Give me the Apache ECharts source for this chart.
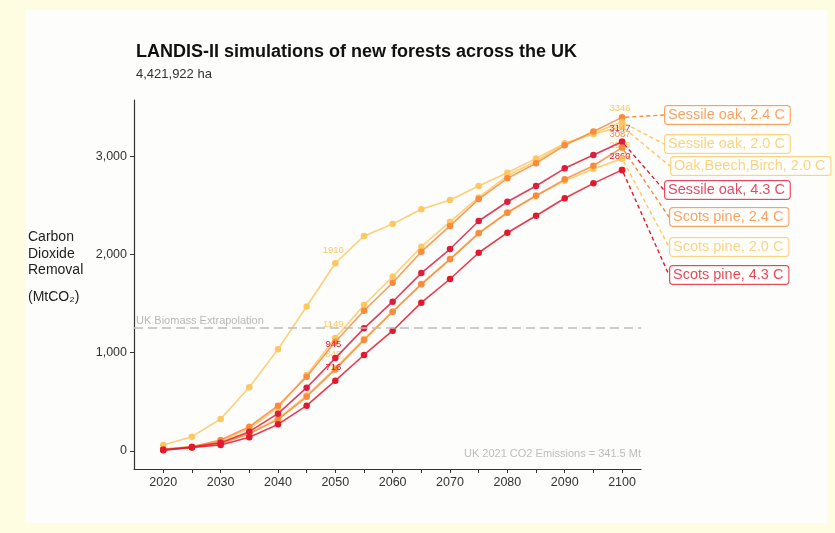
<!DOCTYPE html>
<html>
<head>
<meta charset="utf-8">
<script src="https://cdn.jsdelivr.net/npm/echarts@6/dist/echarts.min.js"></script>
<style>
  html, body { margin: 0; padding: 0; background: #FFFDE1; }
  #chart { width: 835px; height: 533px; }
</style>
</head>
<body>
<div id="chart"></div>
<script>
// ---------------- DATA ----------------
var years = [2020, 2025, 2030, 2035, 2040, 2045, 2050, 2055, 2060, 2065, 2070, 2075, 2080, 2085, 2090, 2095, 2100];
var xTickValues = [2020, 2025, 2030, 2035, 2040, 2045, 2050, 2055, 2060, 2065, 2070, 2075, 2080, 2085, 2090, 2095, 2100];
var xTickLabels = [2020, 2030, 2040, 2050, 2060, 2070, 2080, 2090, 2100];
var yTickLabels = [0, 1000, 2000, 3000];

var scotsPine20      = [15, 38, 78, 180, 330, 565, 845, 1140, 1420, 1700, 1955, 2220, 2430, 2600, 2750, 2869, 2975];
var sessileOak20     = [18, 45, 100, 228, 440, 773, 1149, 1485, 1773, 2078, 2333, 2580, 2800, 2950, 3125, 3235, 3346];
var oakBeechBirch20  = [61, 146, 326, 648, 1034, 1470, 1910, 2187, 2309, 2459, 2553, 2696, 2831, 2977, 3130, 3225, 3300];
var scotsPine24      = [14, 38, 75, 175, 319, 552, 830, 1129, 1417, 1696, 1950, 2215, 2424, 2597, 2764, 2902, 3087];
var sessileOak24     = [18, 42, 112, 247, 461, 756, 1112, 1427, 1712, 2028, 2290, 2563, 2774, 2927, 3110, 3250, 3394];
var sessileOak43     = [12, 40, 85, 197, 380, 644, 945, 1248, 1519, 1810, 2055, 2340, 2536, 2696, 2876, 3011, 3147];
var scotsPine43      = [8, 35, 61, 139, 271, 461, 716, 977, 1224, 1509, 1750, 2017, 2221, 2394, 2571, 2723, 2860];

var seriesNames = ["Scots pine, 2.0 C", "Sessile oak, 2.0 C", "Oak,Beech,Birch, 2.0 C",
                   "Scots pine, 2.4 C", "Sessile oak, 2.4 C", "Sessile oak, 4.3 C", "Scots pine, 4.3 C"];
var seriesValues = [scotsPine20, sessileOak20, oakBeechBirch20, scotsPine24, sessileOak24, sessileOak43, scotsPine43];
// years whose values are printed on each series
var labelYears = [[2050, 2100], [2050, 2100], [2050], [2100], [], [2050, 2100], [2050, 2100]];

var biomassExtrapolation = 1250;
var emissionsNote = "UK 2021 CO2 Emissions = 341.5 Mt";

// ---------------- STYLE ----------------
var YEL = '#FDC761', ORA = '#FA8B3C', RED1 = '#DD1C3E', RED2 = '#E4182D';
var colors = [YEL, YEL, YEL, ORA, ORA, RED1, RED2];
var nameOrder = ["Sessile oak, 2.4 C", "Sessile oak, 2.0 C", "Oak,Beech,Birch, 2.0 C",
                 "Sessile oak, 4.3 C", "Scots pine, 2.4 C", "Scots pine, 2.0 C", "Scots pine, 4.3 C"];
var nameBoxX = [665, 665, 671, 665, 670, 670, 670];
var nameBoxY = [115, 144, 166, 190, 217, 247, 275];

var FONT = '"Liberation Sans", Arial, Helvetica, sans-serif';

var chart = echarts.init(document.getElementById('chart'), null, {renderer: 'canvas'});

var series = [];
seriesValues.forEach(function (vals, si) {
  var data = vals.map(function (v, i) {
    var item = {value: [years[i], v]};
    if (labelYears[si].indexOf(years[i]) >= 0) {
      item.label = {
        show: true, position: 'top', distance: 5, offset: [-2, 0],
        fontSize: 9.5, fontFamily: FONT, color: colors[si],
        formatter: function (p) { return String(p.value[1]); }
      };
    }
    return item;
  });
  var s = {
    name: seriesNames[si],
    type: 'line',
    data: data,
    symbol: 'circle',
    symbolSize: 6.5,
    lineStyle: {width: 1.6, color: colors[si], opacity: 0.85},
    itemStyle: {color: colors[si]},
    label: {show: false},
    emphasis: {disabled: true},
    animation: false,
    z: 2 + si * 0.01
  };
  if (si === 0) {
    s.markLine = {
      silent: true, symbol: 'none', animation: false,
      data: [
        {yAxis: biomassExtrapolation,
         lineStyle: {color: '#BDBDBD', type: [9, 5], width: 1.6},
         label: {show: true, position: 'insideStartTop', formatter: 'UK Biomass Extrapolation',
                 color: '#B8B8B8', fontSize: 11, fontFamily: FONT, distance: [2, 2]}},
        {yAxis: 0,
         lineStyle: {color: 'rgba(255,255,255,0)', width: 0},
         label: {show: true, position: 'insideEndTop', formatter: emissionsNote,
                 color: '#BDBDBD', fontSize: 11, fontFamily: FONT, distance: [0, -8]}}
      ]
    };
  }
  series.push(s);
});

var nameData = nameOrder.map(function (nm, k) {
  var si = seriesNames.indexOf(nm);
  var vals = seriesValues[si];
  return {
    name: nm,
    value: [years[years.length - 1], vals[vals.length - 1]],
    itemStyle: {color: colors[si]},
    label: {
      show: true, formatter: nm, color: colors[si], fontSize: 14.5, fontFamily: FONT,
      borderColor: colors[si], borderWidth: 1, borderRadius: 3, padding: [2, 5, 1, 3],
      backgroundColor: '#ffffff'
    },
    labelLine: {show: true, lineStyle: {color: colors[si], type: [4, 3], width: 1.4}}
  };
});
series.push({
  type: 'scatter',
  data: nameData,
  symbolSize: 6.5,
  animation: false,
  emphasis: {disabled: true},
  z: 3,
  labelLine: {show: true},
  labelLayout: function (p) {
    return {x: nameBoxX[p.dataIndex], y: nameBoxY[p.dataIndex], align: 'left', verticalAlign: 'middle'};
  }
});

var option = {
  backgroundColor: '#FFFDE1',
  animation: false,
  textStyle: {fontFamily: FONT},
  title: [
    {text: 'LANDIS-II simulations of new forests across the UK', left: 131, top: 38,
     textStyle: {fontSize: 18, fontWeight: 'bold', color: '#111', fontFamily: FONT}},
    {text: '4,421,922 ha', left: 131, top: 63,
     textStyle: {fontSize: 13, fontWeight: 'normal', color: '#333', fontFamily: FONT}}
  ],
  graphic: [
    {type: 'rect', z: -100, silent: true, shape: {x: 25, y: 10, width: 802, height: 513},
     style: {fill: '#FDFDFB'}},
    {type: 'text', left: 28, top: 229, silent: true,
     style: {text: 'Carbon\nDioxide\nRemoval', fontSize: 14, lineHeight: 16.5, fill: '#222', fontFamily: FONT}},
    {type: 'text', left: 28, top: 290, silent: true,
     style: {text: '(MtCO\u2082)', fontSize: 14, fill: '#222', fontFamily: FONT}}
  ],
  grid: {left: 134, right: 194, top: 100, bottom: 64, containLabel: false},
  xAxis: {
    type: 'value', min: 2014.9, max: 2103.3,
    axisLine: {show: true, onZero: false, lineStyle: {color: '#333', width: 1.2}},
    axisTick: {show: true, length: 4, customValues: xTickValues, lineStyle: {color: '#333'}},
    axisLabel: {customValues: xTickLabels, fontSize: 12.5, color: '#333', margin: 7, fontFamily: FONT,
                formatter: function (v) { return String(v); }},
    splitLine: {show: false}
  },
  yAxis: {
    type: 'value', min: -183, max: 3571,
    axisLine: {show: true, lineStyle: {color: '#333', width: 1.2}},
    axisTick: {show: true, length: 4, customValues: yTickLabels, lineStyle: {color: '#333'}},
    axisLabel: {customValues: yTickLabels, fontSize: 12.5, color: '#333', margin: 7, fontFamily: FONT,
                formatter: function (v) { return Number(v).toLocaleString('en-US'); }},
    splitLine: {show: false}
  },
  series: series
};
chart.setOption(option);
</script>
</body>
</html>
